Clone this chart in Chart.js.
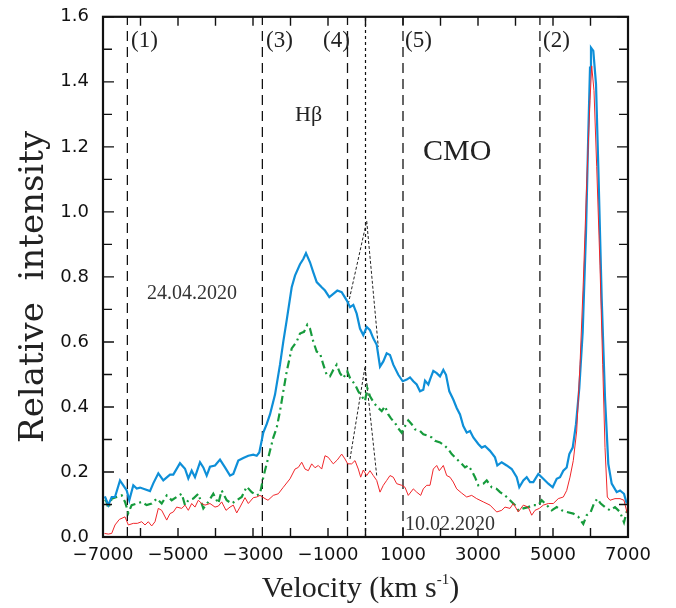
<!DOCTYPE html>
<html>
<head>
<meta charset="utf-8">
<script src="https://cdn.jsdelivr.net/npm/chart.js@4.4.1/dist/chart.umd.min.js"></script>
<style>
html, body { margin: 0; padding: 0; background: #fff; }
#wrap { width: 676px; height: 608px; }
</style>
</head>
<body>
<div id="wrap"><canvas id="hbeta"></canvas></div>
<script>
// vertical marker lines, km/s
var dashedMarkers = [-6350, -2750, -480, 1000];
var greyMarker = 4650;
var centreMarker = 0;

// [velocity, relative intensity]
var blueProfile = [
  [-6950,0.125],[-6859,0.098],[-6768,0.123],[-6680,0.123],[-6547,0.174],[-6459,0.159],[-6368,0.143],
  [-6299,0.113],[-6192,0.159],[-6101,0.149],[-6013,0.152],[-5747,0.141],[-5659,0.165],[-5525,0.196],
  [-5392,0.174],[-5213,0.192],[-5125,0.192],[-4947,0.227],[-4813,0.210],[-4725,0.180],[-4635,0.204],
  [-4547,0.184],[-4413,0.230],[-4325,0.214],[-4235,0.189],[-4147,0.216],[-4013,0.220],[-3880,0.238],
  [-3747,0.214],[-3613,0.189],[-3525,0.194],[-3392,0.235],[-3259,0.243],[-3125,0.250],[-2992,0.253],
  [-2901,0.250],[-2832,0.260],[-2725,0.321],[-2635,0.347],[-2547,0.377],[-2413,0.438],[-2280,0.530],
  [-2192,0.601],[-2101,0.667],[-1968,0.768],[-1880,0.804],[-1747,0.839],[-1659,0.855],[-1587,0.873],
  [-1480,0.845],[-1392,0.814],[-1301,0.784],[-1168,0.768],[-1080,0.758],[-965,0.738],[-859,0.748],
  [-752,0.758],[-635,0.753],[-501,0.728],[-413,0.707],[-325,0.714],[-235,0.687],[-147,0.641],
  [-59,0.621],[32,0.646],[120,0.636],[208,0.611],[299,0.591],[387,0.524],[475,0.540],[565,0.565],
  [653,0.560],[741,0.530],[875,0.499],[992,0.479],[1099,0.484],[1187,0.491],[1275,0.479],[1365,0.469],
  [1453,0.448],[1541,0.453],[1587,0.481],[1675,0.469],[1720,0.484],[1808,0.511],[1899,0.504],
  [1987,0.494],[2075,0.514],[2147,0.499],[2235,0.448],[2341,0.423],[2432,0.397],[2520,0.377],
  [2608,0.341],[2699,0.321],[2787,0.326],[2875,0.306],[3008,0.286],[3099,0.275],[3187,0.280],
  [3320,0.265],[3453,0.245],[3515,0.220],[3632,0.230],[3765,0.220],[3899,0.209],[4032,0.184],
  [4101,0.153],[4208,0.174],[4299,0.184],[4387,0.169],[4475,0.169],[4608,0.194],[4741,0.179],
  [4875,0.164],[4992,0.153],[5099,0.179],[5187,0.184],[5275,0.204],[5365,0.214],[5435,0.255],
  [5525,0.275],[5613,0.347],[5701,0.458],[5792,0.631],[5880,0.936],[5941,1.241],[5987,1.444],
  [6013,1.505],[6075,1.495],[6147,1.393],[6208,1.139],[6299,0.733],[6387,0.428],[6475,0.225],
  [6565,0.164],[6699,0.138],[6787,0.143],[6893,0.133],[6965,0.103]
];

var redProfile = [
  [-6960,0.011],[-6859,0.009],[-6768,0.011],[-6680,0.037],[-6565,0.054],[-6413,0.062],[-6325,0.037],
  [-6192,0.042],[-6085,0.042],[-5968,0.047],[-5880,0.037],[-5792,0.047],[-5701,0.034],[-5613,0.047],
  [-5525,0.088],[-5435,0.082],[-5301,0.052],[-5213,0.072],[-5125,0.077],[-5035,0.092],[-4901,0.088],
  [-4813,0.098],[-4725,0.082],[-4635,0.103],[-4547,0.092],[-4459,0.113],[-4368,0.103],[-4280,0.098],
  [-4147,0.103],[-4013,0.092],[-3925,0.095],[-3835,0.108],[-3720,0.082],[-3613,0.092],[-3525,0.098],
  [-3435,0.074],[-3347,0.092],[-3213,0.121],[-3125,0.103],[-2992,0.121],[-2901,0.123],[-2813,0.128],
  [-2680,0.118],[-2600,0.113],[-2459,0.128],[-2325,0.133],[-2192,0.153],[-2013,0.179],[-1880,0.209],
  [-1792,0.214],[-1701,0.230],[-1613,0.209],[-1525,0.204],[-1435,0.225],[-1347,0.213],[-1259,0.220],
  [-1168,0.209],[-1080,0.250],[-992,0.245],[-928,0.235],[-859,0.225],[-752,0.237],[-635,0.255],
  [-547,0.240],[-475,0.225],[-368,0.225],[-280,0.235],[-192,0.209],[-128,0.184],[-59,0.206],
  [32,0.189],[120,0.204],[208,0.189],[299,0.174],[387,0.138],[475,0.159],[565,0.174],[653,0.189],
  [741,0.184],[832,0.164],[965,0.159],[1053,0.153],[1141,0.128],[1275,0.148],[1365,0.138],
  [1472,0.128],[1541,0.148],[1632,0.159],[1720,0.159],[1808,0.209],[1899,0.220],[1968,0.204],
  [2075,0.220],[2165,0.189],[2253,0.184],[2341,0.169],[2432,0.148],[2565,0.135],[2699,0.123],
  [2832,0.128],[2965,0.118],[3141,0.108],[3320,0.098],[3499,0.077],[3632,0.082],[3720,0.092],
  [3853,0.088],[3941,0.103],[4075,0.077],[4208,0.098],[4341,0.092],[4432,0.067],[4520,0.082],
  [4635,0.088],[4741,0.098],[4875,0.103],[5008,0.103],[5141,0.118],[5275,0.123],[5365,0.143],
  [5453,0.184],[5541,0.235],[5632,0.326],[5720,0.530],[5808,0.784],[5899,1.088],[5987,1.342],
  [6032,1.449],[6093,1.373],[6165,1.139],[6253,0.834],[6325,0.530],[6387,0.275],[6448,0.123],
  [6520,0.113],[6653,0.118],[6787,0.118],[6893,0.113],[6981,0.072]
];

var greenProfile = [
  [-6950,0.110],[-6920,0.113],[-6859,0.088],[-6768,0.118],[-6635,0.123],[-6501,0.128],[-6413,0.108],
  [-6325,0.074],[-6235,0.098],[-6101,0.103],[-5968,0.108],[-5835,0.098],[-5701,0.103],[-5568,0.118],
  [-5435,0.103],[-5301,0.128],[-5168,0.113],[-5035,0.123],[-4901,0.133],[-4813,0.098],[-4725,0.113],
  [-4592,0.118],[-4459,0.133],[-4325,0.088],[-4192,0.108],[-4059,0.133],[-3925,0.103],[-3835,0.143],
  [-3701,0.113],[-3568,0.103],[-3435,0.113],[-3301,0.123],[-3168,0.155],[-3035,0.138],[-2901,0.128],
  [-2813,0.133],[-2725,0.184],[-2635,0.225],[-2547,0.265],[-2459,0.306],[-2368,0.336],[-2280,0.387],
  [-2192,0.448],[-2101,0.509],[-1968,0.580],[-1835,0.601],[-1747,0.626],[-1640,0.631],[-1552,0.653],
  [-1480,0.641],[-1392,0.601],[-1301,0.570],[-1213,0.565],[-1125,0.530],[-1035,0.499],[-947,0.494],
  [-859,0.514],[-768,0.530],[-680,0.504],[-592,0.489],[-485,0.509],[-413,0.489],[-280,0.469],
  [-192,0.448],[-101,0.433],[-13,0.418],[48,0.458],[120,0.433],[227,0.412],[341,0.397],[432,0.387],
  [520,0.402],[608,0.377],[680,0.365],[808,0.347],[875,0.334],[965,0.321],[1053,0.341],[1141,0.359],
  [1232,0.347],[1320,0.331],[1453,0.326],[1541,0.316],[1675,0.311],[1765,0.306],[1853,0.296],
  [1987,0.291],[2120,0.280],[2208,0.270],[2299,0.255],[2432,0.240],[2565,0.225],[2653,0.214],
  [2741,0.220],[2832,0.204],[2920,0.184],[3008,0.159],[3141,0.164],[3232,0.174],[3365,0.153],
  [3499,0.148],[3587,0.138],[3720,0.128],[3853,0.113],[3987,0.098],[4075,0.082],[4208,0.088],
  [4341,0.092],[4475,0.098],[4608,0.098],[4699,0.113],[4832,0.098],[4965,0.082],[5099,0.092],
  [5232,0.082],[5365,0.077],[5541,0.072],[5675,0.062],[5808,0.040],[5899,0.067],[6005,0.077],
  [6093,0.103],[6181,0.118],[6272,0.103],[6387,0.092],[6520,0.082],[6653,0.092],[6787,0.077],
  [6893,0.045],[6981,0.085]
];

// dotted narrow components
var narrowUpper = [[-459,0.717],[32,0.972],[341,0.585]];
var narrowLower = [[-413,0.240],[-13,0.524],[299,0.189]];

var xTicks = [-7000, 7000, 1000];   // min, max, step
var yTicks = [0, 1.6, 0.1];

function pts(arr) { return arr.map(function (p) { return { x: p[0], y: p[1] }; }); }
function vline(v) { return [{ x: v, y: yTicks[0] }, { x: v, y: yTicks[1] }]; }

var datasets = [];
dashedMarkers.forEach(function (v) {
  datasets.push({ data: vline(v), borderColor: '#111', borderWidth: 1.3, borderDash: [10, 6], order: 5 });
});
datasets.push({ data: vline(greyMarker), borderColor: '#555', borderWidth: 1.8, borderDash: [10, 6], order: 5 });
datasets.push({ data: vline(centreMarker), borderColor: '#111', borderWidth: 1.2, borderDash: [3, 3], order: 5 });
datasets.push({ data: pts(narrowUpper), borderColor: '#222', borderWidth: 1, borderDash: [3, 2], order: 4 });
datasets.push({ data: pts(narrowLower), borderColor: '#222', borderWidth: 1, borderDash: [3, 2], order: 4 });
datasets.push({ data: pts(greenProfile), borderColor: '#169b3c', borderWidth: 2.2, borderDash: [8, 4, 2, 4], order: 3 });
datasets.push({ data: pts(blueProfile), borderColor: '#0e8fd8', borderWidth: 2.2, order: 2 });
datasets.push({ data: pts(redProfile), borderColor: '#f0262a', borderWidth: 1, order: 1 });

var decor = {
  id: 'decor',
  afterDraw: function (chart) {
    var ctx = chart.ctx, a = chart.chartArea, xs = chart.scales.x, ys = chart.scales.y;
    ctx.save();
    ctx.strokeStyle = '#111';
    ctx.lineWidth = 2.2;
    ctx.strokeRect(a.left, a.top, a.right - a.left, a.bottom - a.top);

    // inward ticks on all four sides
    ctx.lineWidth = 1.4;
    ctx.beginPath();
    xs.ticks.forEach(function (t) {
      var p = xs.getPixelForValue(t.value);
      ctx.moveTo(p, a.bottom); ctx.lineTo(p, a.bottom - 9);
      ctx.moveTo(p, a.top); ctx.lineTo(p, a.top + 9);
    });
    ys.ticks.forEach(function (t) {
      var p = ys.getPixelForValue(t.value);
      var len = Math.round(t.value * 10) % 2 === 0 ? 11 : 9;
      ctx.moveTo(a.left, p); ctx.lineTo(a.left + len, p);
      ctx.moveTo(a.right, p); ctx.lineTo(a.right - len, p);
    });
    ctx.stroke();

    function label(str, v, y, size, color) {
      ctx.font = size + 'px "Liberation Serif"';
      ctx.fillStyle = color;
      ctx.textAlign = 'left';
      ctx.textBaseline = 'alphabetic';
      ctx.fillText(str, xs.getPixelForValue(v), ys.getPixelForValue(y));
    }
    label('(1)', -6253, 1.506, 23, '#222');
    label('(3)', -2653, 1.506, 23, '#222');
    label('(4)', -1133, 1.506, 23, '#222');
    label('(5)', 1053, 1.506, 23, '#222');
    label('(2)', 4733, 1.506, 23, '#222');
    label('H\u03b2', -1880, 1.280, 22, '#222');
    label('CMO', 1533, 1.159, 30, '#222');
    label('24.04.2020', -5827, 0.732, 20, '#333');
    label('10.02.2020', 1053, 0.021, 20, '#333');

    // x axis title with superscript
    ctx.fillStyle = '#222';
    ctx.textBaseline = 'alphabetic';
    ctx.textAlign = 'left';
    var base = a.bottom + 60;
    ctx.font = '30px "Liberation Serif"';
    var w1 = ctx.measureText('Velocity (km s').width;
    var w3 = ctx.measureText(')').width;
    ctx.font = '15px "Liberation Serif"';
    var w2 = ctx.measureText('-1').width;
    var x0 = (a.left + a.right) / 2 - 5 - (w1 + w2 + w3) / 2;
    ctx.font = '30px "Liberation Serif"';
    ctx.fillText('Velocity (km s', x0, base);
    ctx.font = '15px "Liberation Serif"';
    ctx.fillText('-1', x0 + w1, base - 13);
    ctx.font = '30px "Liberation Serif"';
    ctx.fillText(')', x0 + w1 + w2, base);

    // y axis title
    ctx.translate(a.left - 60, (a.top + a.bottom) / 2 + 10);
    ctx.rotate(-Math.PI / 2);
    ctx.textAlign = 'center';
    ctx.font = '34px "DejaVu Serif"';
    ctx.fillText('Relative  intensity', 0, 0);
    ctx.restore();
  }
};

new Chart(document.getElementById('hbeta'), {
  type: 'line',
  data: { datasets: datasets },
  plugins: [decor],
  options: {
    responsive: true,
    maintainAspectRatio: false,
    animation: false,
    layout: { padding: { top: 12, right: 48, left: 0, bottom: 0 } },
    elements: { point: { radius: 0 }, line: { tension: 0, fill: false } },
    plugins: { legend: { display: false }, tooltip: { enabled: false } },
    scales: {
      x: {
        type: 'linear',
        min: xTicks[0], max: xTicks[1],
        afterFit: function (s) { s.height = 71; },
        grid: { display: false },
        border: { display: false },
        ticks: {
          stepSize: xTicks[2], autoSkip: false, maxRotation: 0, padding: 0,
          color: '#111', font: { family: 'DejaVu Sans', size: 18 },
          callback: function (v) {
            var k = Math.round(v / 1000);
            return Math.abs(k) % 2 === 1 ? String(v).replace('-', '\u2212') : '';
          }
        }
      },
      y: {
        min: yTicks[0], max: yTicks[1],
        afterFit: function (s) { s.width = 103; },
        grid: { display: false },
        border: { display: false },
        ticks: {
          stepSize: yTicks[2], autoSkip: false, padding: 6,
          color: '#111', font: { family: 'DejaVu Sans', size: 18 },
          callback: function (v) {
            return Math.round(v * 10) % 2 === 0 ? v.toFixed(1) : '';
          }
        }
      }
    }
  }
});
</script>
</body>
</html>
